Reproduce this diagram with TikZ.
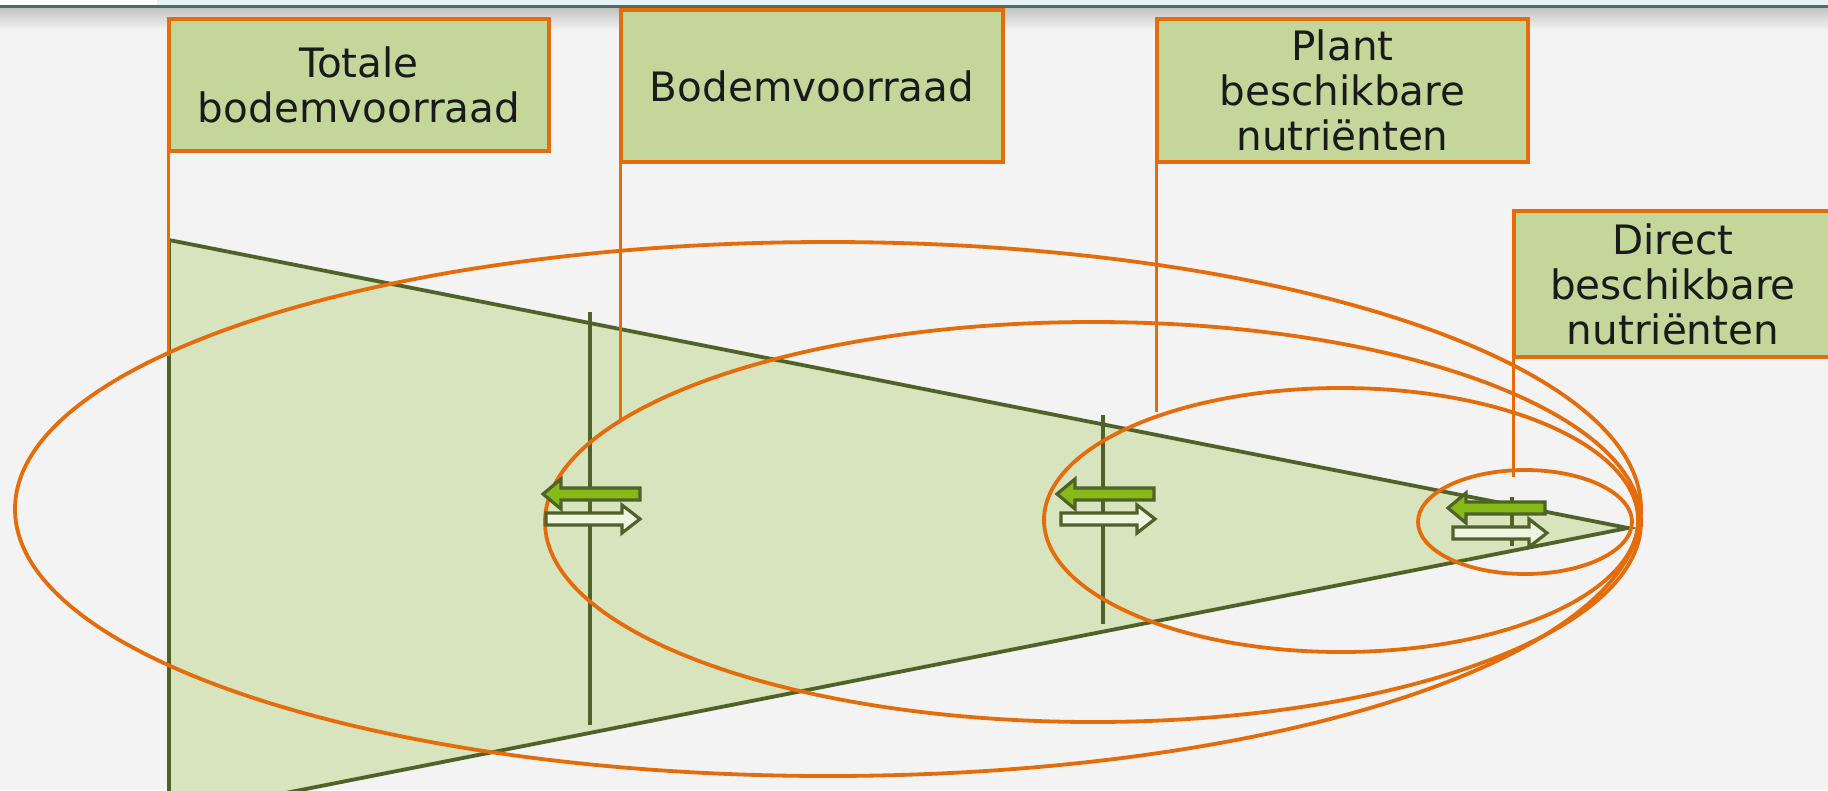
\documentclass[tikz,border=0pt]{standalone}
\usepackage{fontspec}
\setmainfont{DejaVu Sans}
\definecolor{bgc}{HTML}{F3F3F3}
\definecolor{orng}{HTML}{E46C0A}
\definecolor{boxf}{HTML}{C4D79B}
\definecolor{trif}{HTML}{D7E4BD}
\definecolor{dgreen}{HTML}{4F6228}
\definecolor{agreen}{HTML}{86BA16}
\definecolor{afill}{HTML}{EEF3E2}
\definecolor{txt}{HTML}{1A1A1A}
\definecolor{topblue}{HTML}{E6F2FA}
\definecolor{topline}{HTML}{4E6E5E}
\tikzset{
  labelbox/.style={draw=orng, fill=boxf, line width=4pt, inner sep=0pt, align=center,
    text=txt, font=\fontsize{40.5}{45}\selectfont, anchor=north west},
  orline/.style={draw=orng, line width=3.8pt},
  gline/.style={draw=dgreen, line width=3.8pt},
  greenarr/.pic={\filldraw[fill=agreen, draw=dgreen, line width=3.2pt, line join=miter]
     (0,0) -- (18,-15) -- (18,-6) -- (97,-6) -- (97,6) -- (18,6) -- (18,15) -- cycle;},
  whitearr/.pic={\filldraw[fill=afill, draw=dgreen, line width=3.2pt, line join=miter]
     (0,0) -- (-18,-14) -- (-18,-6) -- (-94,-6) -- (-94,6) -- (-18,6) -- (-18,14) -- cycle;}
}
\begin{document}
\begin{tikzpicture}[x=1pt, y=-1pt]
\useasboundingbox (0,0) rectangle (1828,790);
\clip (0,0) rectangle (1828,790);
% background
\fill[bgc] (0,0) rectangle (1828,790);
\shade[top color=black!25, bottom color=bgc] (0,6) rectangle (1828,30);
\fill[white] (0,0) rectangle (157,5);
\fill[topblue] (157,0) rectangle (1828,5);
\fill[topline] (0,5) rectangle (1828,7.5);
% triangle
\filldraw[fill=trif, draw=dgreen, line width=3.8pt, line join=miter] (169,240) -- (1628,528) -- (169,816) -- cycle;
% vertical dividers
\coordinate (v1t) at (590,312); \coordinate (v1b) at (590,725);
\coordinate (v2t) at (1103,415); \coordinate (v2b) at (1103,624);
\coordinate (v3t) at (1512,497); \coordinate (v3b) at (1512,546);
\draw[gline] (v1t) -- (v1b);
\draw[gline] (v2t) -- (v2b);
\draw[gline] (v3t) -- (v3b);
% ellipses
\draw[orline] (828,509) ellipse [x radius=813pt, y radius=267pt];
\draw[orline] (1093,522) ellipse [x radius=548pt, y radius=200pt];
\draw[orline] (1341,520) ellipse [x radius=297pt, y radius=132pt];
\draw[orline] (1525,522) ellipse [x radius=107pt, y radius=52pt];
% boxes
\node[labelbox, minimum width=380pt, minimum height=132pt] (b1) at (167,17) {Totale\\bodemvoorraad};
\node[labelbox, minimum width=382pt, minimum height=152pt] (b2) at (619,8) {Bodemvoorraad};
\node[labelbox, minimum width=371pt, minimum height=143pt] (b3) at (1155,17) {Plant\\beschikbare\\nutriënten};
\node[labelbox, minimum width=318pt, minimum height=146pt] (b4) at (1512,209) {Direct\\beschikbare\\nutriënten};
% leader lines
\coordinate (e1) at (168.5,356);
\coordinate (e2) at (620.5,420);
\coordinate (e3) at (1156.5,412);
\coordinate (e4) at (1513.5,477);
\draw[orline] ([xshift=1.5pt]b1.south west) -- (e1);
\draw[orline] ([xshift=1.5pt]b2.south west) -- (e2);
\draw[orline] ([xshift=1.5pt]b3.south west) -- (e3);
\draw[orline] ([xshift=1.5pt]b4.south west) -- (e4);
% exchange arrows
\pic at (543,494) {greenarr};
\pic at (640,519) {whitearr};
\pic at (1057,494) {greenarr};
\pic at (1155,519) {whitearr};
\pic at (1448,508) {greenarr};
\pic at (1547,533) {whitearr};
\end{tikzpicture}
\end{document}
